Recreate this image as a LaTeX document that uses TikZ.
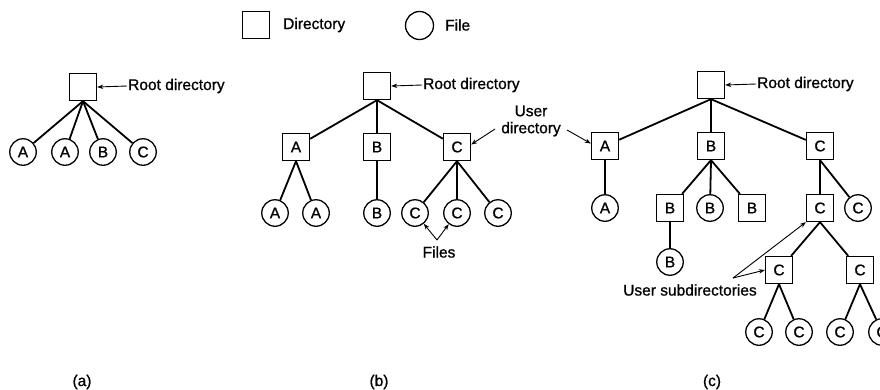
\documentclass[tikz,border=0pt]{standalone}
\usepackage{fontspec}
\setmainfont{Liberation Sans}
\newfontfamily\dfam[FakeBold=0.9]{Liberation Sans}
\usetikzlibrary{arrows.meta}
\newcommand\dfont{\dfam\fontsize{15.5}{17}\selectfont}
\begin{document}
\begin{tikzpicture}[x=1pt,y=-1pt,
  dirbox/.style={draw, line width=1.3pt, minimum size=27pt, inner sep=0pt, font=\dfont},
  filebox/.style={draw, circle, line width=1.3pt, minimum size=26.5pt, inner sep=0pt, font=\dfont},
  lbl/.style={font=\dfont, inner sep=1pt},
  link/.style={line width=1.8pt},
  ptr/.style={line width=0.9pt, -{Stealth[length=6pt,width=4.5pt]}}]
\useasboundingbox (0,0) rectangle (880,389);

% legend
\node[dirbox] (legd) at (256,25) {};
\node[lbl, anchor=west] (legdt) at (282,25) {Directory};
\node[filebox, minimum size=28pt] (legf) at (419.5,25.5) {};
\node[lbl, anchor=west] (legft) at (444,25) {File};

% (a)
\node[dirbox] (ra) at (83,87) {};
\node[lbl, anchor=west] (rat) at (127,86) {Root directory};
\draw[ptr] (rat.west) -- (ra.east);
\node[filebox] (a1) at (23,152) {A};
\node[filebox] (a2) at (65,152) {A};
\node[filebox] (a3) at (103,152) {B};
\node[filebox] (a4) at (143,152) {C};
\foreach \n in {a1,a2,a3,a4} \draw[link] (ra.south) -- (\n);
\node[lbl] (capa) at (82,382) {(a)};

% (b)
\node[dirbox] (rb) at (377,86) {};
\node[lbl, anchor=west] (rbt) at (422,85) {Root directory};
\draw[ptr] (rbt.west) -- (rb.east);
\node[dirbox] (ba) at (296,147) {A};
\node[dirbox] (bb) at (377,147) {B};
\node[dirbox] (bc) at (457,147) {C};
\foreach \n in {ba,bb,bc} \draw[link] (rb.south) -- (\n);
\node[filebox] (ba1) at (275,213) {A};
\node[filebox] (ba2) at (316,213) {A};
\node[filebox] (bb1) at (377,213) {B};
\node[filebox] (bc1) at (415,213) {C};
\node[filebox] (bc2) at (457,213) {C};
\node[filebox] (bc3) at (498,213) {C};
\foreach \n in {ba1,ba2} \draw[link] (ba.south) -- (\n);
\draw[link] (bb.south) -- (bb1);
\foreach \n in {bc1,bc2,bc3} \draw[link] (bc.south) -- (\n);
\node[lbl] (files) at (439,252) {Files};
\coordinate (fj) at (437,240);
\draw[ptr] (fj) -- (bc1);
\draw[ptr] (fj) -- (bc2);
\node[lbl] (capb) at (379,382) {(b)};

% user directory label
\node[lbl, align=center] (ud) at (531,121) {User\\directory};
\coordinate (udl) at (495,129);
\coordinate (udr) at (567,130);

% (c)
\node[dirbox] (rc) at (711,85) {};
\node[lbl, anchor=west] (rct) at (756,84) {Root directory};
\draw[ptr] (rct.west) -- (rc.east);
\node[dirbox] (ca) at (605,146) {A};
\node[dirbox] (cb) at (711,146) {B};
\node[dirbox] (cc) at (820,146) {C};
\foreach \n in {ca,cb,cc} \draw[link] (rc.south) -- (\n);
\draw[ptr] (udl) -- (bc.10);
\draw[ptr] (udr) -- (ca.170);
\node[filebox] (caf) at (605,208) {A};
\draw[link] (ca.south) -- (caf);
\node[dirbox] (cb1) at (670,208) {B};
\node[filebox] (cb2) at (710,208) {B};
\node[dirbox] (cb3) at (752,208) {B};
\foreach \n in {cb1,cb2,cb3} \draw[link] (cb.south) -- (\n);
\node[filebox] (cbf) at (670,262) {B};
\draw[link] (cb1.south) -- (cbf);
\node[dirbox] (cc1) at (820,208) {C};
\node[filebox] (cc2) at (858,208) {C};
\foreach \n in {cc1,cc2} \draw[link] (cc.south) -- (\n);
\node[dirbox] (cc11) at (779,270) {C};
\node[dirbox] (cc12) at (860,270) {C};
\foreach \n in {cc11,cc12} \draw[link] (cc1.south) -- (\n);
\node[filebox] (f1) at (759,332) {C};
\node[filebox] (f2) at (799,332) {C};
\node[filebox] (f3) at (840,332) {C};
\node[filebox] (f4) at (882,332) {C};
\foreach \n in {f1,f2} \draw[link] (cc11.south) -- (\n);
\foreach \n in {f3,f4} \draw[link] (cc12.south) -- (\n);
\node[lbl] (usub) at (690,290) {User subdirectories};
\coordinate (uj) at (733,278);
\draw[ptr] (uj) -- (cc11.west);
\draw[ptr] (uj) -- (cc1.south west);
\node[lbl] (capc) at (712,382) {(c)};
\end{tikzpicture}
\end{document}
